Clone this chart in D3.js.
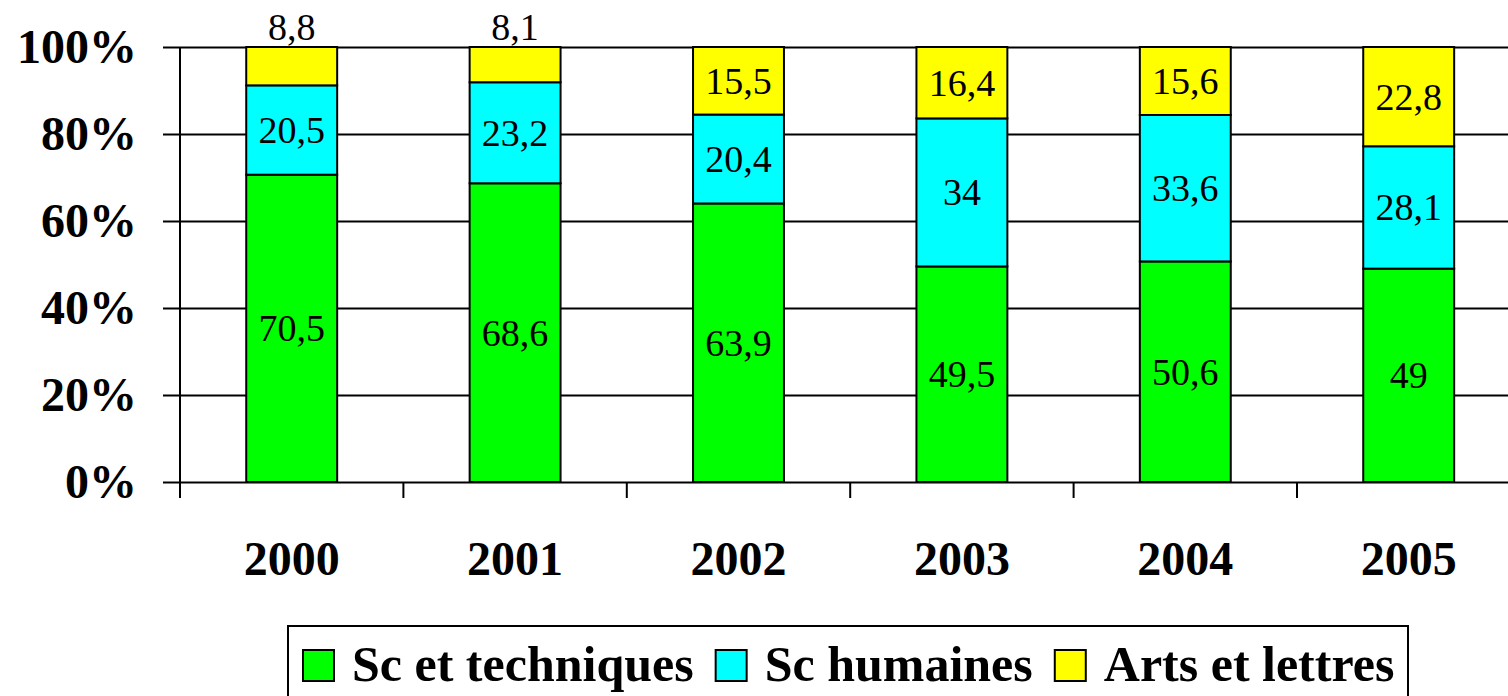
<!DOCTYPE html>
<html>
<head>
<meta charset="utf-8">
<script src="https://cdn.jsdelivr.net/npm/d3@7"></script>
<style>
  body { margin: 0; background: #fff; }
  text { font-family: "Liberation Serif", "Times New Roman", serif; }
</style>
</head>
<body>
<svg></svg>
<script>
const width = 1508;
const height = 696;

// data
const years = ['2000', '2001', '2002', '2003', '2004', '2005'];
const series = ['Sc et techniques', 'Sc humaines', 'Arts et lettres'];
const scTech = [70.5, 68.6, 63.9, 49.5, 50.6, 49];
const scHum = [20.5, 23.2, 20.4, 34, 33.6, 28.1];
const arts = [8.8, 8.1, 15.5, 16.4, 15.6, 22.8];
const colors = ['#00ff00', '#00ffff', '#ffff00'];
const yTicks = [0, 0.2, 0.4, 0.6, 0.8, 1];

const svg = d3.select('svg')
  .attr('width', width)
  .attr('height', height);

const plotLeft = 180;
const step = 223.4;

const x = d3.scaleBand()
  .domain(years)
  .range([plotLeft, plotLeft + step * years.length])
  .paddingInner(0.593)
  .paddingOuter(0.2965);

const y = d3.scaleLinear()
  .domain([0, 1])
  .range([482, 47]);

// gridlines + y labels
const yAxis = svg.append('g')
  .attr('transform', `translate(${plotLeft},0)`)
  .call(d3.axisLeft(y)
    .tickValues(yTicks)
    .tickFormat(d3.format('.0%'))
    .tickSizeInner(-(width - plotLeft))
    .tickSizeOuter(0));

yAxis.select('.domain').remove();
yAxis.selectAll('.tick line')
  .attr('x1', -17)
  .attr('stroke', '#000')
  .attr('stroke-width', 2);
yAxis.selectAll('.tick text')
  .attr('x', -43)
  .attr('font-size', 48)
  .attr('font-weight', 'bold')
  .attr('font-family', '"Liberation Serif", serif')
  .attr('fill', '#000');

// vertical axis line
svg.append('line')
  .attr('x1', plotLeft).attr('x2', plotLeft)
  .attr('y1', y(1)).attr('y2', y(0) + 16)
  .attr('stroke', '#000')
  .attr('stroke-width', 2);

// category ticks at band boundaries
svg.append('g')
  .selectAll('line')
  .data(years)
  .enter()
  .append('line')
    .attr('x1', d => x(d) + x.bandwidth() / 2 - x.step() / 2)
    .attr('x2', d => x(d) + x.bandwidth() / 2 - x.step() / 2)
    .attr('y1', y(0))
    .attr('y2', y(0) + 16)
    .attr('stroke', '#000')
    .attr('stroke-width', 2);

// stacked percent data
const rows = years.map((yr, i) => {
  const vals = [scTech[i], scHum[i], arts[i]];
  const total = d3.sum(vals);
  let acc = 0;
  return vals.map((v, k) => {
    const seg = { year: yr, value: v, k, y0: acc / total, y1: (acc + v) / total };
    acc += v;
    return seg;
  });
});
const segs = rows.flat();

svg.append('g')
  .selectAll('rect')
  .data(segs)
  .enter()
  .append('rect')
    .attr('x', d => x(d.year))
    .attr('width', x.bandwidth())
    .attr('y', d => y(d.y1))
    .attr('height', d => y(d.y0) - y(d.y1))
    .attr('fill', d => colors[d.k])
    .attr('stroke', '#000')
    .attr('stroke-width', 2);

// value labels
const fmt = v => String(v).replace('.', ',');
svg.append('g')
  .selectAll('text')
  .data(segs)
  .enter()
  .append('text')
    .attr('x', d => x(d.year) + x.bandwidth() / 2)
    .attr('y', d => {
      const h = y(d.y0) - y(d.y1);
      return h < 45 ? y(d.y1) - 7 : (y(d.y0) + y(d.y1)) / 2 + 13;
    })
    .attr('text-anchor', 'middle')
    .attr('font-size', 38)
    .text(d => fmt(d.value));

// year labels
svg.append('g')
  .selectAll('text')
  .data(years)
  .enter()
  .append('text')
    .attr('x', d => x(d) + x.bandwidth() / 2)
    .attr('y', 575)
    .attr('text-anchor', 'middle')
    .attr('font-size', 48)
    .attr('font-weight', 'bold')
    .text(d => d);

// legend
const legend = svg.append('g');
legend.append('rect')
  .attr('x', 288).attr('y', 626)
  .attr('width', 1120).attr('height', 120)
  .attr('fill', '#fff')
  .attr('stroke', '#000')
  .attr('stroke-width', 2);

let lx = 303;
series.forEach((s, i) => {
  legend.append('rect')
    .attr('x', lx).attr('y', 650)
    .attr('width', 31).attr('height', 31)
    .attr('fill', colors[i])
    .attr('stroke', '#000')
    .attr('stroke-width', 2);
  const t = legend.append('text')
    .attr('x', lx + 49)
    .attr('y', 681)
    .attr('font-size', 50)
    .attr('font-weight', 'bold')
    .text(s);
  lx += 49 + t.node().getComputedTextLength() + 22;
});
</script>
</body>
</html>
